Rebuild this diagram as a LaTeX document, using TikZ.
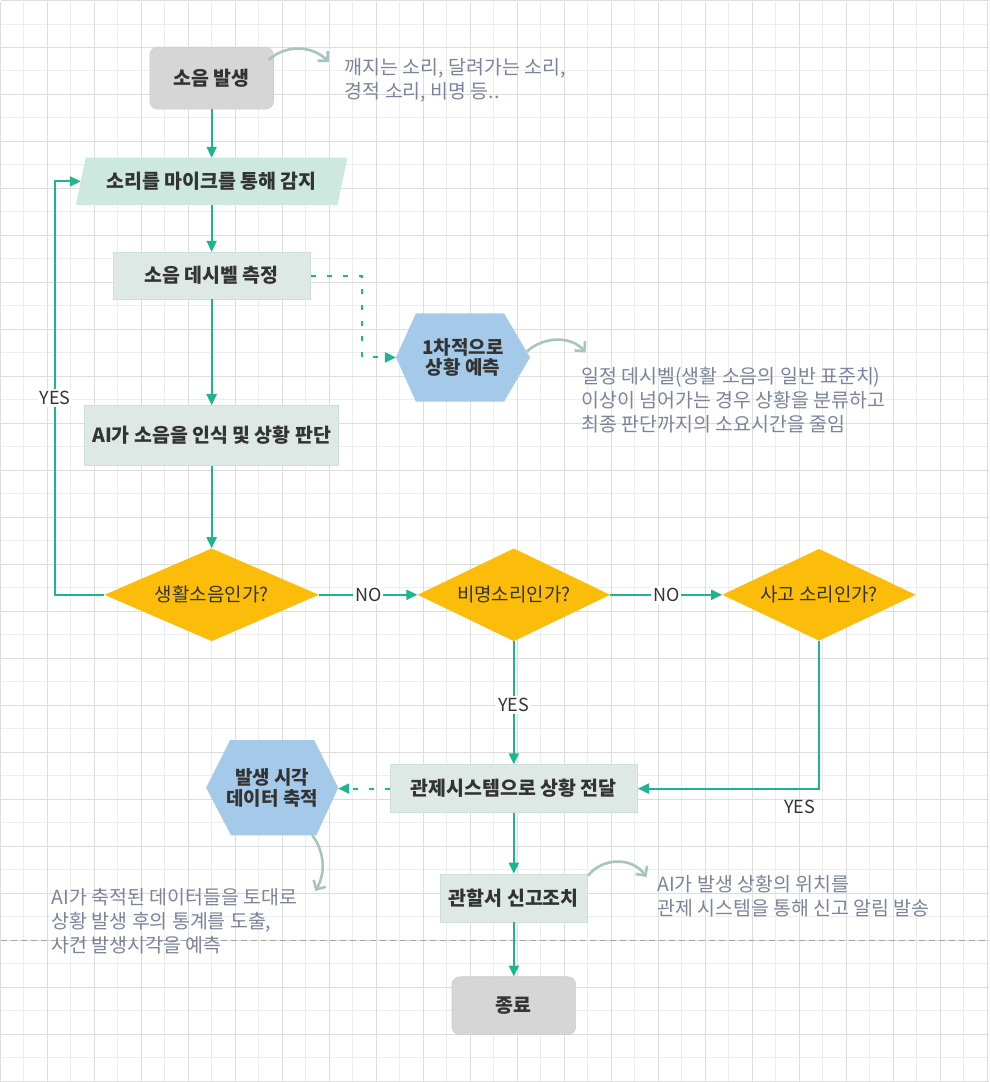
\documentclass[tikz,border=0pt]{standalone}
\usepackage{fontspec}
\setmainfont{Noto Sans CJK KR}
\usetikzlibrary{shapes.geometric,arrows.meta,calc}

\definecolor{teal1}{RGB}{29,181,143}
\definecolor{amber}{RGB}{251,188,10}
\definecolor{hexblue}{RGB}{164,201,233}
\definecolor{mint}{RGB}{205,232,223}
\definecolor{boxg}{RGB}{222,233,229}
\definecolor{boxgb}{RGB}{206,224,218}
\definecolor{greyn}{RGB}{214,214,214}
\definecolor{greynb}{RGB}{204,204,204}
\definecolor{notec}{RGB}{123,132,156}
\definecolor{notearr}{RGB}{166,197,189}
\definecolor{txt}{RGB}{51,51,51}
\definecolor{gridmaj}{RGB}{221,221,221}
\definecolor{gridmin}{RGB}{237,237,237}
\definecolor{pagebrk}{RGB}{165,165,165}

\pgfdeclarelayer{gridlayer}
\pgfdeclarelayer{shapelayer}
\pgfsetlayers{gridlayer,shapelayer,main}

\begin{document}
\begin{tikzpicture}[x=1pt,y=-1pt,
  base/.style={inner sep=0pt, font=\fontsize{19.5}{22}\selectfont\bfseries, text=txt, align=center},
  startend/.style={base, rounded corners=8pt, fill=greyn, draw=greynb, line width=0.6pt},
  procbox/.style={base, fill=boxg, draw=boxgb, line width=0.8pt},
  decision/.style={diamond, aspect=2.3, inner sep=0pt, fill=amber, font=\fontsize{19}{22}\selectfont, text=txt},
  hexlabel/.style={base, font=\fontsize{19}{20.5}\selectfont\bfseries},
  flow/.style={draw=teal1, line width=2pt, -{Triangle[length=11pt,width=10pt]}},
  dotflow/.style={flow, dash pattern=on 5pt off 11pt},
  lbl/.style={fill=white, inner sep=2pt, font=\fontsize{18}{20}\selectfont, text=txt},
  note/.style={align=left, inner sep=0pt, font=\fontsize{19.5}{24}\selectfont, text=notec, anchor=north west},
  notearrow/.style={draw=notearr, line width=2.6pt, -{Straight Barb[length=7pt,width=14pt]}}
]
% background grid
\begin{pgfonlayer}{gridlayer}
  \fill[white] (0,0) rectangle (990,1082);
  \foreach \k in {1,3,...,41} \draw[gridmin, line width=1pt] ({23.55*\k-0.7},0) -- ({23.55*\k-0.7},1082);
  \foreach \k in {0,2,...,44} \draw[gridmin, line width=1pt] (0,{21.7+23.56*\k}) -- (990,{21.7+23.56*\k});
  \foreach \k in {0,2,...,42} \draw[gridmaj, line width=1pt] ({23.55*\k-0.7},0) -- ({23.55*\k-0.7},1082);
  \foreach \k in {-1,1,...,45} \draw[gridmaj, line width=1pt] (0,{21.7+23.56*\k}) -- (990,{21.7+23.56*\k});
  \draw[pagebrk, line width=0.9pt, dash pattern=on 6pt off 4pt] (0,941) -- (990,941);
\end{pgfonlayer}
\useasboundingbox (0,0) rectangle (990,1082);

% nodes
\node[startend, minimum width=124pt, minimum height=62pt] (n1) at (211,76) {소음 발생};
\node[base, minimum width=272pt, minimum height=47pt] (p1) at (211,179.5) {소리를 마이크를 통해 감지};
\node[procbox, minimum width=198pt, minimum height=47pt] (r2) at (211,274) {소음 데시벨 측정};
\node[procbox, minimum width=255pt, minimum height=60pt] (r3) at (211,434.3) {AI가 소음을 인식 및 상황 판단};
\node[decision, minimum width=215pt, minimum height=93pt] (d1) at (211,594) {생활소음인가?};
\node[decision, minimum width=193pt, minimum height=93pt] (d2) at (514,594) {비명소리인가?};
\node[decision, minimum width=194pt, minimum height=92pt] (d3) at (820,594) {사고 소리인가?};
\node[hexlabel, minimum width=134pt, minimum height=88pt] (h1) at (463,356) {1차적으로\\상황 예측};
\node[procbox, minimum width=248pt, minimum height=48pt] (r4) at (514,788.3) {관제시스템으로 상황 전달};
\node[hexlabel, minimum width=132pt, minimum height=95pt] (h2) at (271.7,787.5) {발생 시각\\데이터 축적};
\node[procbox, minimum width=148pt, minimum height=48pt] (r5) at (514,898) {관할서 신고조치};
\node[startend, minimum width=124pt, minimum height=58pt] (r6) at (514,1006) {종료};

% shapes drawn behind their labels
\begin{pgfonlayer}{shapelayer}
  \fill[mint] (p1.south west) -- ([xshift=10pt]p1.north west) -- (p1.north east) -- ([xshift=-10pt]p1.south east) -- cycle;
  \fill[hexblue] (h1.west) -- ([xshift=20pt]h1.north west) -- ([xshift=-26pt]h1.north east) -- (h1.east)
     -- ([xshift=-26pt]h1.south east) -- ([xshift=20pt]h1.south west) -- cycle;
  \fill[hexblue] (h2.west) -- ([xshift=24pt]h2.north west) -- ([xshift=-24pt]h2.north east) -- (h2.east)
     -- ([xshift=-22pt]h2.south east) -- ([xshift=25pt]h2.south west) -- cycle;
\end{pgfonlayer}

% notes
\node[note] (a1) at (344.4,56) {깨지는 소리, 달려가는 소리,\\경적 소리, 비명 등..};
\node[note] (a2) at (581.7,366) {일정 데시벨(생활 소음의 일반 표준치)\\이상이 넘어가는 경우 상황을 분류하고\\최종 판단까지의 소요시간을 줄임};
\node[note] (a3) at (50.5,888.5) {AI가 축적된 데이터들을 토대로\\상황 발생 후의 통계를 도출,\\사건 발생시각을 예측};
\node[note] (a4) at (657.8,875.5) {AI가 발생 상황의 위치를\\관제 시스템을 통해 신고 알림 발송};

\coordinate (t1) at (328.4,60);
\coordinate (t2) at (586,351);
\coordinate (t3) at (315,891);
\coordinate (t4) at (647,877);

% note arrows
\draw[notearrow] ($(n1.north east)+(-5,13)$) .. controls (285,42) and (312,43) .. (t1);
\draw[notearrow] ($(h1.east)+(-3,-6)$) .. controls (542,336) and (570,333) .. (t2);
\draw[notearrow] ($(h2.south east)+(-26,0)$) .. controls (322,848) and (327,870) .. (t3);
\draw[notearrow] ($(r5.north east)+(0,2)$) .. controls (602,858) and (632,856) .. (t4);

% flow
\coordinate (loopx) at (54,0);
\draw[flow] (n1) -- (p1);
\draw[flow] (p1) -- (r2);
\draw[flow] (r2) -- (r3);
\draw[flow] (r3) -- (d1);
\draw[flow] (d1.west) -- (d1.west -| loopx) |- ([xshift=5pt]p1.west) node[lbl, pos=0.238] {YES};
\draw[flow] (d1) -- node[lbl] {NO} (d2);
\draw[flow] (d2) -- node[lbl] {NO} (d3);
\draw[flow] (d2) -- node[lbl, pos=0.52] {YES} (r4);
\draw[flow] (d3.south) |- (r4.east) node[lbl, pos=0.5, anchor=north east, fill=none, xshift=-1pt, yshift=-9pt] {YES};
\draw[flow] (r4) -- (r5);
\draw[flow] (r5) -- (r6);
\draw[dotflow] (r2.east) -- ++(51,0) |- (h1.west);
\draw[dotflow] (r4.west) -- (r4.west -| h2.east);
\end{tikzpicture}
\end{document}
